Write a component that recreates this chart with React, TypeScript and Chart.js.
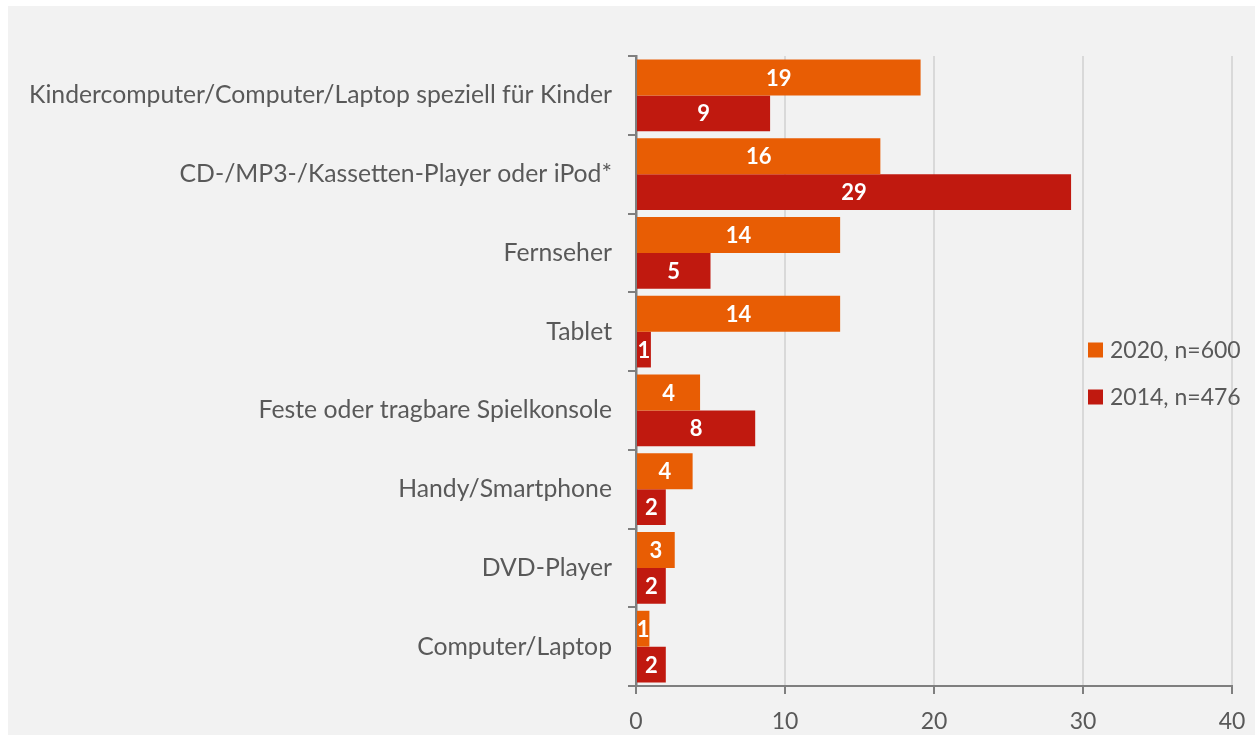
import React, { useEffect, useRef } from "react";
import { Chart, registerables } from "chart.js";

Chart.register(...registerables);

const categories = [
  "Kindercomputer/Computer/Laptop speziell für Kinder",
  "CD-/MP3-/Kassetten-Player oder iPod*",
  "Fernseher",
  "Tablet",
  "Feste oder tragbare Spielkonsole",
  "Handy/Smartphone",
  "DVD-Player",
  "Computer/Laptop",
];
const series2020 = [19.1, 16.4, 13.7, 13.7, 4.3, 3.8, 2.6, 0.9];
const series2014 = [9.0, 29.2, 5.0, 1.0, 8.0, 2.0, 2.0, 2.0];
const seriesLabels = ["2020, n=600", "2014, n=476"];
const xTicks = [0, 10, 20, 30, 40];

const FONT = "Lato";
const TEXT = "#595959";
const AXIS = "#7f7f7f";
const W = 1247;
const H = 729;

const barLabelPlugin = {
  id: "barLabels",
  afterDatasetsDraw(chart: any) {
    const ctx = chart.ctx;
    ctx.save();
    ctx.fillStyle = "#ffffff";
    ctx.font = `bold 22px ${FONT}`;
    ctx.textAlign = "center";
    ctx.textBaseline = "middle";
    chart.data.datasets.forEach((ds: any, di: number) => {
      const meta = chart.getDatasetMeta(di);
      meta.data.forEach((bar: any, i: number) => {
        const v = ds.data[i];
        const x = (bar.x + bar.base) / 2;
        ctx.fillText(String(Math.round(v)), x, bar.y + 1);
      });
    });
    ctx.restore();
  },
};

const legendPlugin = {
  id: "customLegend",
  afterDraw(chart: any) {
    const ctx = chart.ctx;
    const ca = chart.chartArea;
    const mid = (ca.top + ca.bottom) / 2;
    const x = ca.right - 144;
    const ys = [mid - 21, mid + 26];
    ctx.save();
    ctx.font = `23px ${FONT}`;
    ctx.textAlign = "left";
    ctx.textBaseline = "middle";
    chart.data.datasets.forEach((ds: any, i: number) => {
      ctx.fillStyle = ds.backgroundColor;
      ctx.fillRect(x, ys[i] - 7.5, 15, 15);
      ctx.fillStyle = TEXT;
      ctx.fillText(ds.label, x + 22, ys[i] + 1);
    });
    ctx.restore();
  },
};

export default function App() {
  const ref = useRef<HTMLCanvasElement | null>(null);
  useEffect(() => {
    if (!ref.current) return;
    const chart = new Chart(ref.current, {
      type: "bar",
      data: {
        labels: categories,
        datasets: [
          {
            label: seriesLabels[0],
            data: series2020,
            backgroundColor: "#E85D04",
            categoryPercentage: 0.91,
            barPercentage: 1,
          },
          {
            label: seriesLabels[1],
            data: series2014,
            backgroundColor: "#C0190F",
            categoryPercentage: 0.91,
            barPercentage: 1,
          },
        ],
      },
      options: {
        indexAxis: "y",
        animation: false,
        responsive: false,
        layout: { padding: { top: 50, right: 23, left: 0, bottom: 0 } },
        plugins: {
          legend: { display: false },
          tooltip: { enabled: false },
        },
        scales: {
          x: {
            min: 0,
            max: 40,
            afterBuildTicks: (scale: any) => {
              scale.ticks = xTicks.map((v) => ({ value: v }));
            },
            afterFit: (scale: any) => {
              scale.height = 49;
              scale.paddingRight = 0;
              scale.paddingLeft = 0;
            },
            grid: {
              color: "#d9d9d9",
              lineWidth: 2,
              tickColor: AXIS,
              tickWidth: 2,
              tickLength: 8,
            },
            border: { color: AXIS, width: 2 },
            ticks: {
              color: TEXT,
              font: { family: FONT, size: 23 },
              padding: 14,
              maxRotation: 0,
            },
          },
          y: {
            afterFit: (scale: any) => {
              scale.width = 628;
            },
            grid: {
              drawOnChartArea: false,
              color: AXIS,
              lineWidth: 2,
              tickLength: 8,
              offset: true,
            },
            border: { color: AXIS, width: 2.5 },
            ticks: {
              color: TEXT,
              font: { family: FONT, size: 24.75 },
              padding: 16,
            },
          },
        },
      },
      plugins: [barLabelPlugin, legendPlugin],
    });
    return () => chart.destroy();
  }, []);
  return (
    <div
      style={{
        position: "fixed",
        left: 8,
        top: 6,
        width: W,
        height: H,
        background: "#f2f2f2",
      }}
    >
      <canvas ref={ref} width={W} height={H} style={{ display: "block" }} />
    </div>
  );
}
